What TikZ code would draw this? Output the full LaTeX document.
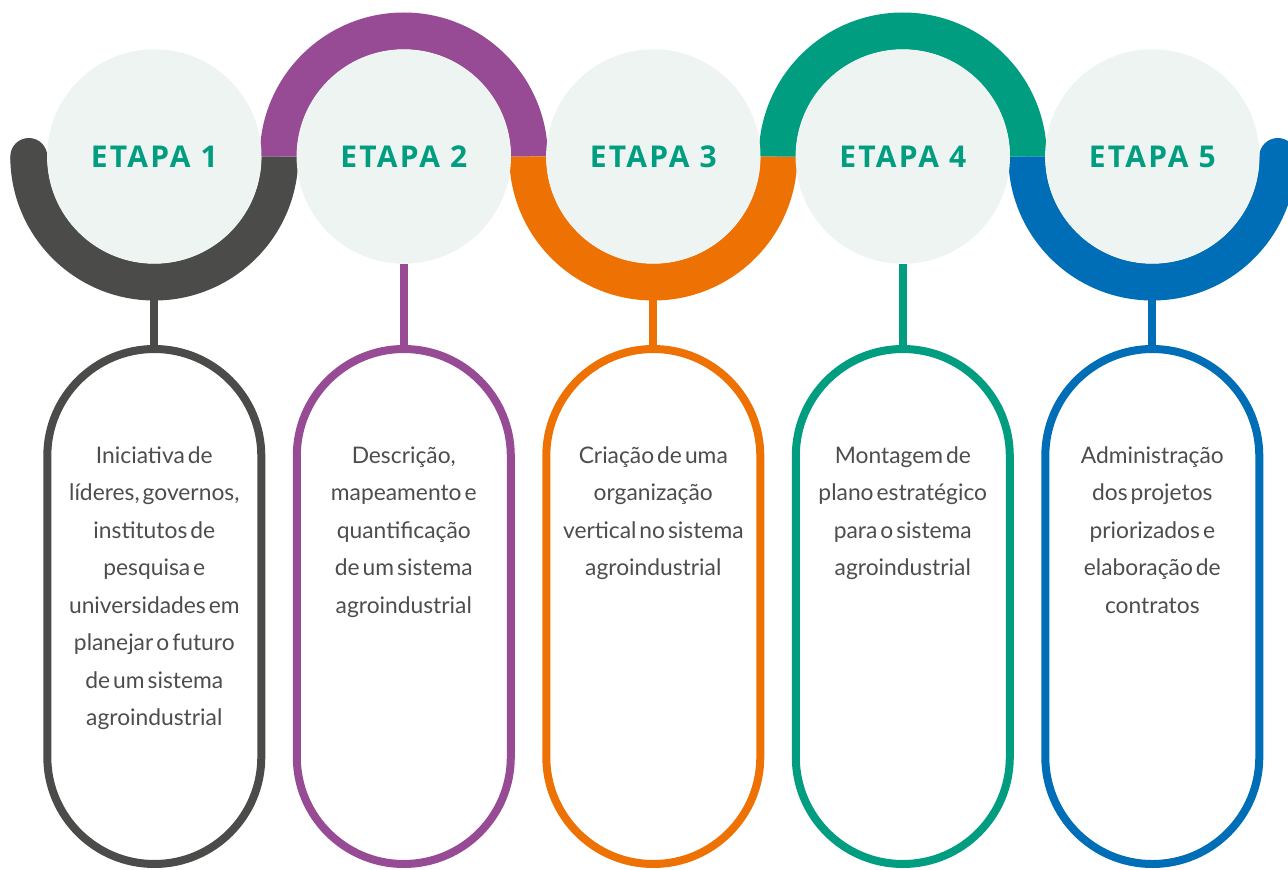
\documentclass[tikz,border=0pt]{standalone}
\usepackage{fontspec}
\newfontfamily\latofont{Lato}
\newfontfamily\etapafont[LetterSpace=7.5]{Open Sans}
\newcommand\mytightspace{\spaceskip=3pt\relax}
\definecolor{cgray}{HTML}{4B4B4A}
\definecolor{cpurple}{HTML}{974B95}
\definecolor{corange}{HTML}{EE7203}
\definecolor{cgreen}{HTML}{009D80}
\definecolor{cblue}{HTML}{006EB6}
\definecolor{etapacol}{HTML}{009D80}
\definecolor{circfill}{HTML}{EEF4F2}
\definecolor{textgray}{HTML}{4D4D4D}
\begin{document}
\begin{tikzpicture}[x=1pt,y=1pt,
  band/.style={line width=37pt},
  disc/.style={circle, fill=circfill, inner sep=0pt, minimum size=214.4pt,
    font=\etapafont\bfseries\fontsize{30}{36}\selectfont, text=etapacol},
  pill/.style={draw, line width=8pt, rounded corners=107pt, minimum width=214pt,
    minimum height=515pt, fill=white, inner sep=0pt},
  stem/.style={line width=8pt},
  desc/.style={align=center, font=\latofont\fontsize{22.8}{37.5}\selectfont\mytightspace,
    text=textgray, anchor=base, inner sep=0pt}]
\useasboundingbox (0,0) rectangle (1288,-870);
\fill[white] (0,0) rectangle (1288,-870);
% bands
\draw[band, cgray]   (28.8,-156.5)   arc[start angle=180, end angle=360, radius=125.5];
\draw[band, cpurple] (278.3,-156.5)  arc[start angle=180, end angle=0,   radius=125.5];
\draw[band, corange] (527.8,-156.5)  arc[start angle=180, end angle=360, radius=125.5];
\draw[band, cgreen]  (777.3,-156.5)  arc[start angle=180, end angle=0,   radius=125.5];
\draw[band, cblue]   (1026.8,-156.5) arc[start angle=180, end angle=360, radius=125.5];
\fill[cgray] (28.8,-156.5) circle[radius=18.5];
\fill[cblue] (1277.8,-156.5) circle[radius=18.5];
% circles
\node[disc] (c1) at (154.3,-156.5) {ETAPA 1};
\node[disc] (c2) at (403.8,-156.5) {ETAPA 2};
\node[disc] (c3) at (653.3,-156.5) {ETAPA 3};
\node[disc] (c4) at (902.8,-156.5) {ETAPA 4};
\node[disc] (c5) at (1152.3,-156.5) {ETAPA 5};
% pills
\node[pill, draw=cgray]   (p1) at (154.3,-606.5) {};
\node[pill, draw=cpurple] (p2) at (403.8,-606.5) {};
\node[pill, draw=corange] (p3) at (653.3,-606.5) {};
\node[pill, draw=cgreen]  (p4) at (902.8,-606.5) {};
\node[pill, draw=cblue]   (p5) at (1152.3,-606.5) {};
% stems
\coordinate (a1) at (154.3,-295);
\coordinate (a3) at (653.3,-295);
\coordinate (a5) at (1152.3,-295);
\draw[stem, cgray]   (a1) -- (p1.north);
\draw[stem, cpurple] (c2.south) -- (p2.north);
\draw[stem, corange] (a3) -- (p3.north);
\draw[stem, cgreen]  (c4.south) -- (p4.north);
\draw[stem, cblue]   (a5) -- (p5.north);
% texts (anchor base = baseline of the last line)
\node[desc] (t1) at (154.3,-725.5) {Iniciativa de\\líderes, governos,\\institutos de\\pesquisa e\\universidades em\\planejar o futuro\\de um sistema\\agroindustrial};
\node[desc] (t2) at (403.8,-613) {Descrição,\\mapeamento e\\quantificação\\de um sistema\\agroindustrial};
\node[desc] (t3) at (653.3,-575.5) {Criação de uma\\organização\\vertical no sistema\\agroindustrial};
\node[desc] (t4) at (902.8,-575.5) {Montagem de\\plano estratégico\\para o sistema\\agroindustrial};
\node[desc] (t5) at (1152.3,-613) {Administração\\dos projetos\\priorizados e\\elaboração de\\contratos};
\end{tikzpicture}
\end{document}
